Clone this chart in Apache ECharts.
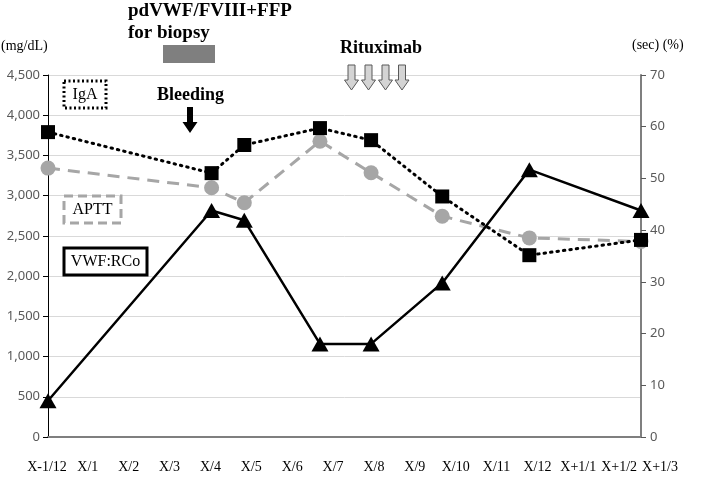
<!DOCTYPE html>
<html>
<head>
<meta charset="utf-8">
<script src="https://cdn.jsdelivr.net/npm/echarts@6/dist/echarts.min.js"></script>
<style>html,body{margin:0;padding:0;background:#fff}#c{width:708px;height:477px}</style>
</head>
<body>
<div id="c"></div>
<script>
// Month labels (category ticks)
var monthLabels = ['X-1/12','X/1','X/2','X/3','X/4','X/5','X/6','X/7','X/8','X/9','X/10','X/11','X/12','X+1/1','X+1/2','X+1/3'];
// Sampling positions in months since X-1/12 (date axis)
var sampleMonths = [0, 4.0, 4.8, 6.65, 7.9, 9.64, 11.77, 14.5];
// IgA (mg/dL), left axis
var igaValues = [3790, 3280, 3630, 3840, 3690, 2990, 2260, 2450];
// APTT (sec), right axis
var apttValues = [52, 48.2, 45.3, 57.2, 51.1, 42.7, 38.5, 37.8];
// VWF:RCo (%), right axis
var vwfValues = [7, 43.8, 41.9, 18, 18, 29.8, 51.7, 43.8];
var leftTicks = {min: 0, max: 4500, interval: 500};
var rightTicks = {min: 0, max: 70, interval: 10};

function pairs(xs, ys){ return xs.map(function(x,i){ return [x, ys[i]]; }); }

var serif = 'Liberation Serif';
var chart = echarts.init(document.getElementById('c'), null, {renderer:'canvas'});

function downArrow(cx, top, bottom, shaftW, headW, headStart, fill, stroke){
  return {
    type:'polygon',
    shape:{points:[[cx-shaftW/2,top],[cx+shaftW/2,top],[cx+shaftW/2,headStart],[cx+headW/2,headStart],[cx,bottom],[cx-headW/2,headStart],[cx-shaftW/2,headStart]]},
    style:{fill:fill, stroke:stroke, lineWidth: stroke ? 1 : 0},
    z: 100
  };
}

var graphics = [
  {type:'text', left:128, top:2, style:{text:'pdVWF/FVIII+FFP', font:'bold 19px "Liberation Serif"', fill:'#000'}},
  {type:'text', left:128, top:24, style:{text:'for biopsy', font:'bold 19px "Liberation Serif"', fill:'#000'}},
  {type:'rect', shape:{x:163, y:45, width:52, height:18}, style:{fill:'#7f7f7f'}},
  {type:'text', left:157, top:86, style:{text:'Bleeding', font:'bold 18px "Liberation Serif"', fill:'#000'}},
  downArrow(190, 107, 133, 6, 15, 122, '#000', null),
  {type:'text', left:340, top:39, style:{text:'Rituximab', font:'bold 18px "Liberation Serif"', fill:'#000'}},
  downArrow(351.5, 65, 90, 7, 14, 80, '#d4d4d4', '#595959'),
  downArrow(368.5, 65, 90, 7, 14, 80, '#d4d4d4', '#595959'),
  downArrow(385.5, 65, 90, 7, 14, 80, '#d4d4d4', '#595959'),
  downArrow(402, 65, 90, 7, 14, 80, '#d4d4d4', '#595959'),
  {type:'text', left:1, top:39, style:{text:'(mg/dL)', font:'14px "Liberation Serif"', fill:'#000'}},
  {type:'text', left:632, top:38, style:{text:'(sec) (%)', font:'14px "Liberation Serif"', fill:'#000'}},
  // legend-like boxes
  {type:'rect', shape:{x:64, y:81, width:42, height:27}, style:{fill:'#fff', stroke:'#000', lineWidth:3, lineDash:[2,2.5]}, z:50},
  {type:'text', x:85, y:95, style:{text:'IgA', font:'16px "Liberation Serif"', fill:'#000', textAlign:'center', textVerticalAlign:'middle'}, z:51},
  {type:'rect', shape:{x:64, y:196, width:57, height:27}, style:{fill:'#fff', stroke:'#a6a6a6', lineWidth:3, lineDash:[9,5]}, z:50},
  {type:'text', x:92.5, y:210, style:{text:'APTT', font:'16px "Liberation Serif"', fill:'#000', textAlign:'center', textVerticalAlign:'middle'}, z:51},
  {type:'rect', shape:{x:64, y:248, width:83, height:27}, style:{fill:'#fff', stroke:'#000', lineWidth:3}, z:50},
  {type:'text', x:105.5, y:262, style:{text:'VWF:RCo', font:'16px "Liberation Serif"', fill:'#000', textAlign:'center', textVerticalAlign:'middle'}, z:51}
];

var option = {
  animation:false,
  backgroundColor:'#fff',
  grid:[
    {left:48, right:67, top:75, bottom:40, containLabel:false},
    {left:47, right:48, top:75, bottom:40, containLabel:false}
  ],
  xAxis:[
    {type:'value', gridIndex:0, min:0, max:14.5, axisLabel:{show:false}, axisTick:{show:false},
     splitLine:{show:false}, axisLine:{show:true, onZero:false, lineStyle:{color:'#7f7f7f', width:2}}},
    {type:'category', gridIndex:1, data:monthLabels, boundaryGap:false,
     axisLine:{show:false}, axisTick:{show:false}, splitLine:{show:false},
     axisLabel:{interval:0, margin:23, fontFamily:serif, fontSize:14, color:'#000'}}
  ],
  yAxis:[
    {type:'value', gridIndex:0, position:'left', min:leftTicks.min, max:leftTicks.max, interval:leftTicks.interval,
     axisLine:{show:true, lineStyle:{color:'#000', width:1}},
     axisTick:{show:true, length:5, lineStyle:{color:'#000'}},
     splitLine:{show:true, lineStyle:{color:'#d9d9d9', width:1}},
     axisLabel:{margin:8, fontFamily:'Noto Sans', fontSize:13, color:'#595959',
       formatter:function(v){ return v.toLocaleString('en-US'); }}},
    {type:'value', gridIndex:0, position:'right', min:rightTicks.min, max:rightTicks.max, interval:rightTicks.interval,
     axisLine:{show:true, lineStyle:{color:'#7f7f7f', width:2}},
     axisTick:{show:true, length:5, lineStyle:{color:'#595959'}},
     splitLine:{show:false},
     axisLabel:{margin:9, fontFamily:'Noto Sans', fontSize:13, color:'#595959'}},
    {type:'value', gridIndex:1, show:false, min:0, max:1}
  ],
  series:[
    {name:'IgA', type:'line', xAxisIndex:0, yAxisIndex:0, data:pairs(sampleMonths, igaValues),
     symbol:'rect', symbolSize:14, itemStyle:{color:'#000'},
     lineStyle:{color:'#000', width:3, type:[1.5,5], cap:'round'}, z:3},
    {name:'APTT', type:'line', xAxisIndex:0, yAxisIndex:1, data:pairs(sampleMonths, apttValues),
     symbol:'circle', symbolSize:15, itemStyle:{color:'#a6a6a6'},
     lineStyle:{color:'#a6a6a6', width:3, type:[12,8]}, z:2},
    {name:'VWF:RCo', type:'line', xAxisIndex:0, yAxisIndex:1, data:pairs(sampleMonths, vwfValues),
     symbol:'triangle', symbolSize:[17,15], itemStyle:{color:'#000'},
     lineStyle:{color:'#000', width:2.5}, z:4}
  ],
  graphic:graphics
};
chart.setOption(option);
</script>
</body>
</html>
